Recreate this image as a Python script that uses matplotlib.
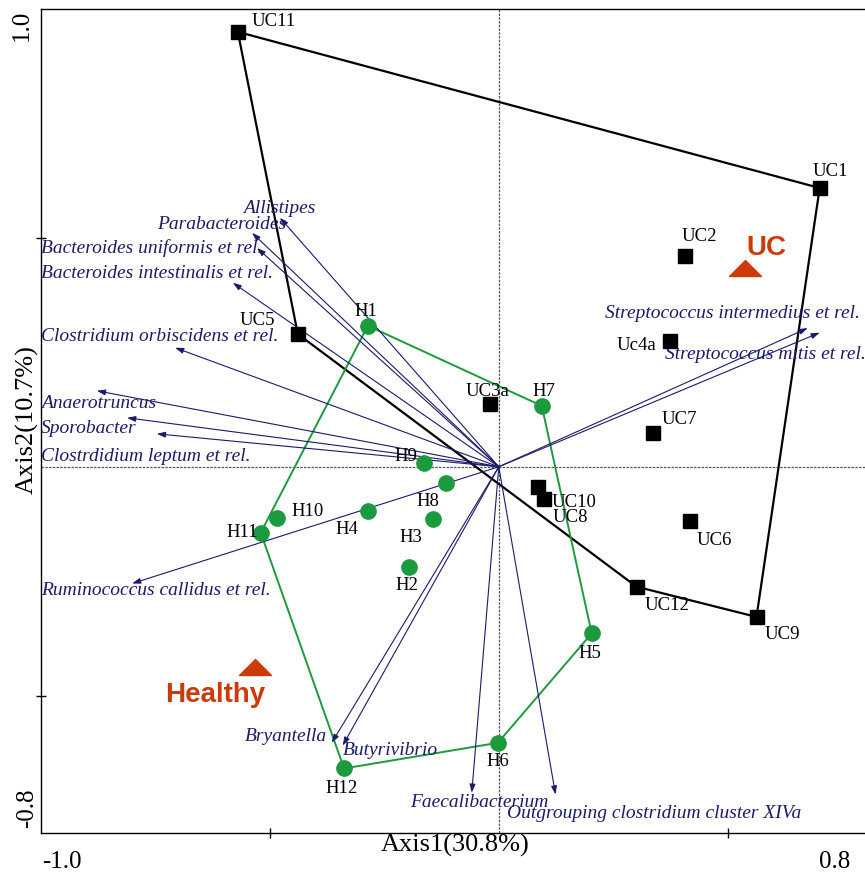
import matplotlib
matplotlib.use("Agg")
import matplotlib.pyplot as plt

# sample scores (Axis1, Axis2)
uc_names = ['UC1', 'UC2', 'UC3a', 'Uc4a', 'UC5', 'UC6', 'UC7', 'UC8', 'UC9', 'UC10', 'UC11', 'UC12']
uc_x = [0.701, 0.406, -0.020, 0.373, -0.439, 0.417, 0.336, 0.098, 0.563, 0.085, -0.570, 0.301]
uc_y = [0.609, 0.461, 0.138, 0.275, 0.290, -0.118, 0.074, -0.070, -0.328, -0.044, 0.950, -0.262]

h_names = ['H1', 'H2', 'H3', 'H4', 'H5', 'H6', 'H7', 'H8', 'H9', 'H10', 'H11', 'H12']
h_x = [-0.286, -0.197, -0.144, -0.286, 0.203, -0.002, 0.094, -0.116, -0.164, -0.485, -0.520, -0.338]
h_y = [0.308, -0.218, -0.114, -0.096, -0.364, -0.603, 0.133, -0.035, 0.009, -0.111, -0.144, -0.659]

uc_hull = ['UC11', 'UC1', 'UC9', 'UC12', 'UC5', 'UC11']
h_hull = ['H1', 'H7', 'H5', 'H6', 'H12', 'H11', 'H1']

# group centroids
centroid_names = ['UC', 'Healthy']
centroid_x = [0.537, -0.533]
centroid_y = [0.434, -0.437]

# species loadings
species = ['Allistipes', 'Parabacteroides', 'Bacteroides uniformis et rel.',
           'Bacteroides intestinalis et rel.', 'Clostridium orbiscidens et rel.',
           'Anaerotruncus', 'Sporobacter', 'Clostrdidium leptum et rel.',
           'Ruminococcus callidus et rel.', 'Bryantella', 'Butyrivibrio',
           'Faecalibacterium', 'Outgrouping clostridium cluster XIVa',
           'Streptococcus intermedius et rel.', 'Streptococcus mitis et rel.']
sp_x = [-0.478, -0.539, -0.528, -0.581, -0.707, -0.878, -0.812, -0.747,
        -0.801, -0.365, -0.341, -0.059, 0.124, 0.675, 0.701]
sp_y = [0.544, 0.511, 0.478, 0.402, 0.260, 0.166, 0.107, 0.072,
        -0.255, -0.603, -0.609, -0.712, -0.716, 0.303, 0.293]

# label placement (pixel offsets from the point, ha)
uc_lab = {'UC1': (-7, 16, 'left'), 'UC2': (-3, 19, 'left'), 'UC3a': (-2, 12, 'center'),
          'Uc4a': (-13, -5, 'right'), 'UC5': (-23, 14, 'right'), 'UC6': (7, -20, 'left'),
          'UC7': (9, 13, 'left'), 'UC8': (9, -19, 'left'), 'UC9': (8, -18, 'left'),
          'UC10': (14, -16, 'left'), 'UC11': (14, 10, 'left'), 'UC12': (8, -19, 'left')}
h_lab = {'H1': (-2, 14, 'center'), 'H2': (-2, -19, 'center'), 'H3': (-11, -19, 'right'),
         'H4': (-10, -19, 'right'), 'H5': (-2, -20, 'center'), 'H6': (0, -19, 'center'),
         'H7': (2, 14, 'center'), 'H8': (-6, -19, 'right'), 'H9': (-6, 6, 'right'),
         'H10': (15, 6, 'left'), 'H11': (-3, 0, 'right'), 'H12': (-2, -20, 'center')}
sp_lab = [(-37, 9), (-95, 8), (-216, 0), (-192, 9), (-134, 11), (-56, -13), (-86, -11),
          (-116, -23), (-91, -7), (-87, 6), (0, -5), (-62, -10), (-49, -19), (-203, 15), (-155, -22)]

NAVY = '#1b1b6b'
GREEN = '#1c9a3e'
ORANGE = '#cc3a0a'
SERIF = 'Liberation Serif'

fig = plt.figure(figsize=(8.65, 8.76), dpi=100)
ax = fig.add_axes([41 / 865, 43 / 876, 824 / 865, 824 / 876])
ax.set_xlim(-1.0, 0.8)
ax.set_ylim(-0.8, 1.0)

ax.axhline(0, color='#555555', lw=0.9, ls=(0, (2, 1)), zorder=1)
ax.axvline(0, color='#555555', lw=0.9, ls=(0, (2, 1)), zorder=1)

# hull lines
ux = dict(zip(uc_names, uc_x)); uy = dict(zip(uc_names, uc_y))
ax.plot([ux[n] for n in uc_hull], [uy[n] for n in uc_hull], color='black', lw=1.6, zorder=2)
hx = dict(zip(h_names, h_x)); hy = dict(zip(h_names, h_y))
ax.plot([hx[n] for n in h_hull], [hy[n] for n in h_hull], color=GREEN, lw=1.4, zorder=2)

# species arrows
for name, x, y, (dx, dy) in zip(species, sp_x, sp_y, sp_lab):
    ax.annotate('', xy=(x, y), xytext=(0, 0),
                arrowprops=dict(arrowstyle='-|>,head_length=0.5,head_width=0.17',
                                color=NAVY, lw=0.8, shrinkA=0, shrinkB=0), zorder=3)
    ax.annotate(name, xy=(x, y), xytext=(dx, dy), textcoords='offset pixels',
                ha='left', va='center', fontsize=14, style='italic',
                family=SERIF, color=NAVY, zorder=4)

# samples
ax.plot(uc_x, uc_y, 's', color='black', ms=10.5, zorder=5, ls='none')
ax.plot(h_x, h_y, 'o', color=GREEN, ms=11, zorder=5, ls='none')
for n, x, y in zip(uc_names, uc_x, uc_y):
    dx, dy, ha = uc_lab[n]
    ax.annotate(n, xy=(x, y), xytext=(dx, dy), textcoords='offset pixels',
                ha=ha, va='center', fontsize=13.5, family=SERIF, zorder=6)
for n, x, y in zip(h_names, h_x, h_y):
    dx, dy, ha = h_lab[n]
    ax.annotate(n, xy=(x, y), xytext=(dx, dy), textcoords='offset pixels',
                ha=ha, va='center', fontsize=13.5, family=SERIF, zorder=6)

# centroids
tri = [(-1, -0.5), (1, -0.5), (0, 0.5), (-1, -0.5)]
ax.plot(centroid_x, centroid_y, ls='none', marker=tri, ms=23, color=ORANGE, zorder=5)
cent_lab = [(2, 20, 'left'), (-40, -28, 'center')]
for n, x, y, (dx, dy, ha) in zip(centroid_names, centroid_x, centroid_y, cent_lab):
    ax.annotate(n, xy=(x, y), xytext=(dx, dy), textcoords='offset pixels',
                ha=ha, va='center', fontsize=20, fontweight='bold',
                family='Liberation Sans', color=ORANGE, zorder=6)

# frame / ticks
ax.spines['right'].set_visible(False)
for s in ['left', 'bottom', 'top']:
    ax.spines[s].set_linewidth(1.0)
ax.set_xticks([-0.5, 0.5])
ax.set_yticks([-0.5, 0.5])
ax.tick_params(direction='inout', length=7, width=1, labelbottom=False, labelleft=False)

fig.text(455 / 865, 1 - 845 / 876, 'Axis1(30.8%)', ha='center', va='center', fontsize=19, family=SERIF)
fig.text(27 / 865, 1 - 420 / 876, 'Axis2(10.7%)', ha='center', va='center', fontsize=19,
         family=SERIF, rotation=90)
fig.text(62 / 865, 1 - 862 / 876, '-1.0', ha='center', va='center', fontsize=18, family=SERIF)
fig.text(835 / 865, 1 - 862 / 876, '0.8', ha='center', va='center', fontsize=18, family=SERIF)
fig.text(22 / 865, 1 - 25 / 876, '1.0', ha='center', va='center', fontsize=18, family=SERIF, rotation=90)
fig.text(27 / 865, 1 - 808 / 876, '-0.8', ha='center', va='center', fontsize=18, family=SERIF, rotation=90)

fig.savefig('out.png', dpi=100)
